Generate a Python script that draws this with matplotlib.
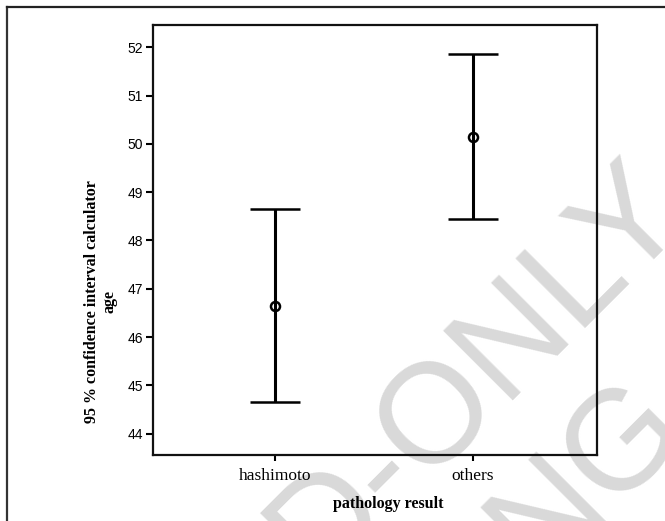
import matplotlib
matplotlib.use("Agg")
import matplotlib.pyplot as plt
from matplotlib.lines import Line2D

categories = ["hashimoto", "others"]
means = [46.65, 50.15]
lower = [44.66, 48.45]
upper = [48.65, 51.87]
yticks = [44, 45, 46, 47, 48, 49, 50, 51, 52]

W, H = 665, 521
fig = plt.figure(figsize=(W / 100, H / 100), dpi=100)
fig.patch.set_facecolor("white")

# watermark (behind plot)
fig.text(478 / W, 1 - 372 / H, "D-ONLY", rotation=45, rotation_mode="anchor",
         ha="center", va="center", fontsize=102, color="#d9d9d9",
         family="Liberation Sans", zorder=-5)
fig.text(588 / W, 1 - 476 / H, "NG", rotation=45, rotation_mode="anchor",
         ha="center", va="center", fontsize=102, color="#d9d9d9",
         family="Liberation Sans", zorder=-5)

# outer frame (top and left only)
fig.add_artist(Line2D([7 / W, 7 / W], [0, 1 - 7 / H], transform=fig.transFigure,
                      color="#333333", lw=1.6))
fig.add_artist(Line2D([7 / W, 1], [1 - 7 / H, 1 - 7 / H], transform=fig.transFigure,
                      color="#222222", lw=1.6))

ax = fig.add_axes([153 / W, 1 - 455 / H, (597 - 153) / W, (455 - 25) / H])
ax.patch.set_visible(False)

x = list(range(len(categories)))
yerr = [[m - l for m, l in zip(means, lower)], [u - m for m, u in zip(means, upper)]]
ax.errorbar(x, means, yerr=yerr, fmt="o", color="black", ecolor="black",
            elinewidth=2.2, capsize=18, capthick=2.6, markersize=6.5,
            markerfacecolor="none", markeredgewidth=1.8)

ax.set_xlim(-0.62, 1.63)
ax.set_ylim(43.56, 52.46)
ax.set_yticks(yticks)
ax.set_yticklabels([str(v) for v in yticks], family="Liberation Sans", fontsize=10)
ax.set_xticks(x)
ax.set_xticklabels(categories, family="Liberation Serif", fontsize=12.5)

for s in ax.spines.values():
    s.set_linewidth(1.6)
    s.set_color("#111111")
ax.tick_params(axis="y", length=5, width=1.5, pad=2)
ax.tick_params(axis="x", length=4, width=1.5, pad=5)

ax.set_xlabel("pathology result", family="Liberation Serif", fontweight="bold",
              fontsize=11.5)
ax.xaxis.set_label_coords(0.529, -0.095)
ax.set_ylabel("95 % confidence interval calculator\nage", family="Liberation Serif",
              fontweight="bold", fontsize=11.5, linespacing=1.1)
ax.yaxis.set_label_coords(-0.081, 0.356)

fig.savefig("out.png", dpi=100)
